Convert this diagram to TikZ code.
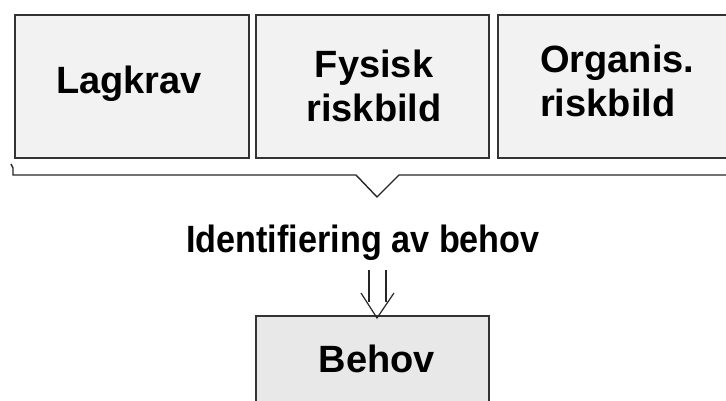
\documentclass[tikz,border=0pt]{standalone}
\usepackage{fontspec}
\setmainfont{Liberation Sans}
\begin{document}
\begin{tikzpicture}[x=1pt,y=-1pt,
  box/.style={draw=black!80,line width=1.6pt,fill=black!5,inner sep=0pt,anchor=north west},
  lbl/.style={font=\fontsize{38}{44}\selectfont\bfseries,inner sep=0pt,anchor=base},
  ln/.style={draw=black!85,line width=1.4pt}]
\useasboundingbox (0,0) rectangle (726,401);
\clip (0,0) rectangle (726,401);
% source boxes
\node[box,minimum width=234pt,minimum height=143pt] (lag) at (14,14) {};
\node[box,minimum width=233pt,minimum height=143pt] (fys) at (255,14) {};
\node[box,minimum width=250pt,minimum height=143pt] (org) at (497,14) {};
\node[lbl] (tlag) at (129,94) {Lagkrav};
\node[lbl] (tfys1) at (374,78) {Fysisk};
\node[lbl] (tfys2) at (374,122) {riskbild};
\node[lbl,anchor=base west] (torg1) at (540,73) {Organis.};
\node[lbl,anchor=base west] (torg2) at (540,117) {riskbild};
% brace under the boxes
\coordinate (bl) at (11,164);
\coordinate (tip) at (377,197);
\draw[ln,line join=miter] (bl) -- (13,168) -- (13,175) -- (356,175) -- (tip) -- (399,175) -- (740,175);
% result
\node[lbl] (ident) at (363,252) {\scalebox{0.9}[1]{Identifiering av behov}};
\node[box,fill=black!9,minimum width=233pt,minimum height=100pt] (beh) at (255,315) {};
\node[lbl] (tbeh) at (377,372) {Behov};
% open double arrow from the heading to the result box
\coordinate (at) at ([yshift=-3pt]beh.north -| tip);
\draw[ln,line width=1.2pt] (369,270) -- (369,302);
\draw[ln,line width=1.2pt] (386,270) -- (386,302);
\draw[ln,line width=1.2pt] (361,293) -- (at) -- (394,293);
\end{tikzpicture}
\end{document}
